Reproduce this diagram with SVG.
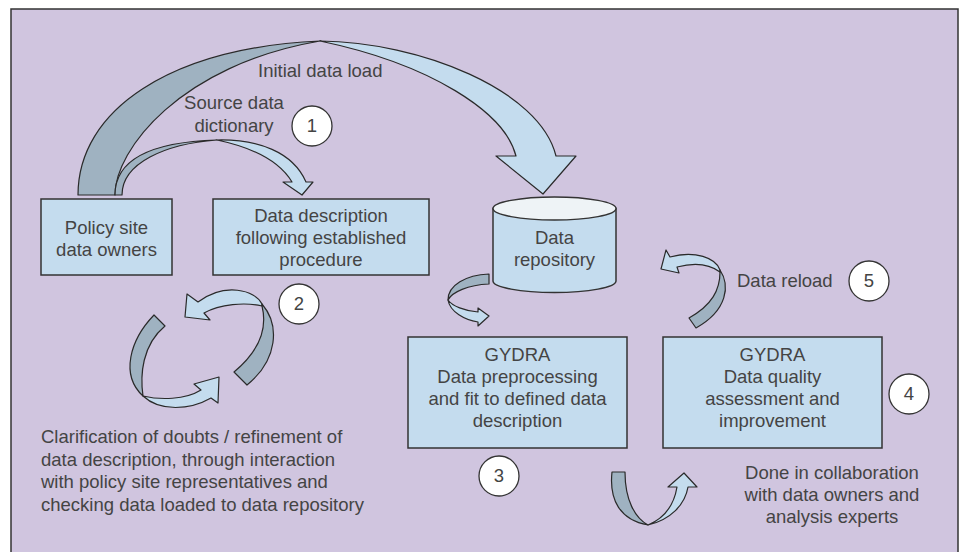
<svg xmlns="http://www.w3.org/2000/svg" width="960" height="552" viewBox="0 0 960 552">
<style>
text{font-family:"Liberation Sans",Arial,sans-serif;font-size:18.5px;fill:#444}
.c{text-anchor:middle}
.box{fill:#c4dcee;stroke:#333;stroke-width:1.5}
.lt{fill:#c4dcee;stroke:#2a2a2a;stroke-width:1.2;stroke-linejoin:round}
.dk{fill:#9fb2c1;stroke:#2a2a2a;stroke-width:1.2;stroke-linejoin:round}
.num{fill:#fff;stroke:#333;stroke-width:1.3}
</style>
<rect x="0" y="0" width="960" height="552" fill="#fff"/>
<rect x="11" y="9" width="947" height="560" fill="#d0c5df" stroke="#333" stroke-width="1.5"/>
<g id="connectors">
<g id="initial-load">
<path class="dk" d="M78,195 C78,110 170,48 320,41 C180,65 115,150 115,195 Z"/>
<path class="lt" d="M320,41 C420,42 540,90 556,156 L576,156 L543,194 L496,156 L516,156 C505,112 430,64 320,41 Z"/>
</g>
<g id="source-dict">
<path class="dk" d="M115,195 C115,160 150,142 217,140 C165,144 122,163 122,195 Z"/>
<path class="lt" d="M217,140 C258,139 293,152 306,182 L313,182 L302,195 L283,182 L292,182 C280,162 255,148 217,140 Z"/>
</g>
<g id="cycle-2">
<path class="lt" d="M262,304 C255,290 225,282 198,302 L187,294 L185,317 L210,320 L204,313 C220,304 245,302 262,306 Z"/>
<path class="dk" d="M262,304 C280,325 278,360 247,385 L234,372 C258,352 268,330 262,306 Z"/>
<path class="dk" d="M154,315 C130,340 120,375 143,396 C140,375 142,345 165,326 Z"/>
<path class="lt" d="M143,396 C160,412 190,410 211,398 L218,403 L219,377 L194,384 L201,390 C185,400 160,400 143,396 Z"/>
</g>
<g id="repo-to-prep">
<path class="dk" d="M489,274 C466,275 448,285 448,300 C452,292 468,285 489,284 Z"/>
<path class="lt" d="M448,300 C450,312 465,320 478,322 L478,326 L489,316 L478,308 L478,312 C465,311 452,306 448,300 Z"/>
</g>
<g id="reload">
<path class="lt" d="M720,270 C716,258 695,250 670,257 L666,250 L661,269 L679,273 L677,267 C692,263 708,263 720,272 Z"/>
<path class="dk" d="M720,270 C730,285 728,310 696,328 L689,318 C712,305 720,290 720,272 Z"/>
</g>
<g id="collab-loop">
<path class="dk" d="M612,472 C609,500 620,520 648,525 C635,518 625,500 625,472 Z"/>
<path class="lt" d="M648,525 C670,520 685,505 688,487 L697,487 L684,473 L668,487 L677,487 C674,505 665,518 648,525 Z"/>
</g>
</g>
<g id="labels">
<text x="258" y="77">Initial data load</text>
<text class="c" x="234" y="109">Source data</text>
<text class="c" x="234" y="132">dictionary</text>
<text x="737" y="287">Data reload</text>
<text class="c" x="832" y="479">Done in collaboration</text>
<text class="c" x="832" y="501">with data owners and</text>
<text class="c" x="832" y="523">analysis experts</text>
<text x="41" y="443">Clarification of doubts / refinement of</text>
<text x="41" y="466">data description, through interaction</text>
<text x="41" y="488">with policy site representatives and</text>
<text x="41" y="511">checking data loaded to data repository</text>
</g>
<g id="policy-owners">
<rect class="box" x="41" y="199" width="131" height="76"/>
<text class="c" x="106.5" y="234">Policy site</text>
<text class="c" x="106.5" y="256">data owners</text>
</g>
<g id="data-description">
<rect class="box" x="213" y="199" width="216" height="76"/>
<text class="c" x="321" y="222">Data description</text>
<text class="c" x="321" y="244">following established</text>
<text class="c" x="321" y="266">procedure</text>
</g>
<g id="data-repository">
<path class="box" d="M493,208.5 L493,281 A61.5,11.5 0 0 0 616,281 L616,208.5 Z"/>
<ellipse cx="554.5" cy="208.5" rx="61.5" ry="11.5" fill="#eef3f6" stroke="#333" stroke-width="1.5"/>
<text class="c" x="554.5" y="244">Data</text>
<text class="c" x="554.5" y="266">repository</text>
</g>
<g id="gydra-preprocessing">
<rect class="box" x="408" y="337" width="219" height="111"/>
<text class="c" x="517.5" y="361">GYDRA</text>
<text class="c" x="517.5" y="383">Data preprocessing</text>
<text class="c" x="517.5" y="405">and fit to defined data</text>
<text class="c" x="517.5" y="427">description</text>
</g>
<g id="gydra-quality">
<rect class="box" x="663" y="337" width="219" height="111"/>
<text class="c" x="772.5" y="361">GYDRA</text>
<text class="c" x="772.5" y="383">Data quality</text>
<text class="c" x="772.5" y="405">assessment and</text>
<text class="c" x="772.5" y="427">improvement</text>
</g>
<g id="step-1"><circle class="num" cx="312" cy="126" r="20"/><text class="c" x="312" y="132">1</text></g>
<g id="step-2"><circle class="num" cx="299" cy="304" r="20"/><text class="c" x="299" y="310">2</text></g>
<g id="step-3"><circle class="num" cx="499" cy="476" r="20"/><text class="c" x="499" y="482">3</text></g>
<g id="step-4"><circle class="num" cx="909" cy="394" r="20"/><text class="c" x="909" y="400">4</text></g>
<g id="step-5"><circle class="num" cx="869" cy="281" r="20"/><text class="c" x="869" y="287">5</text></g>
</svg>
